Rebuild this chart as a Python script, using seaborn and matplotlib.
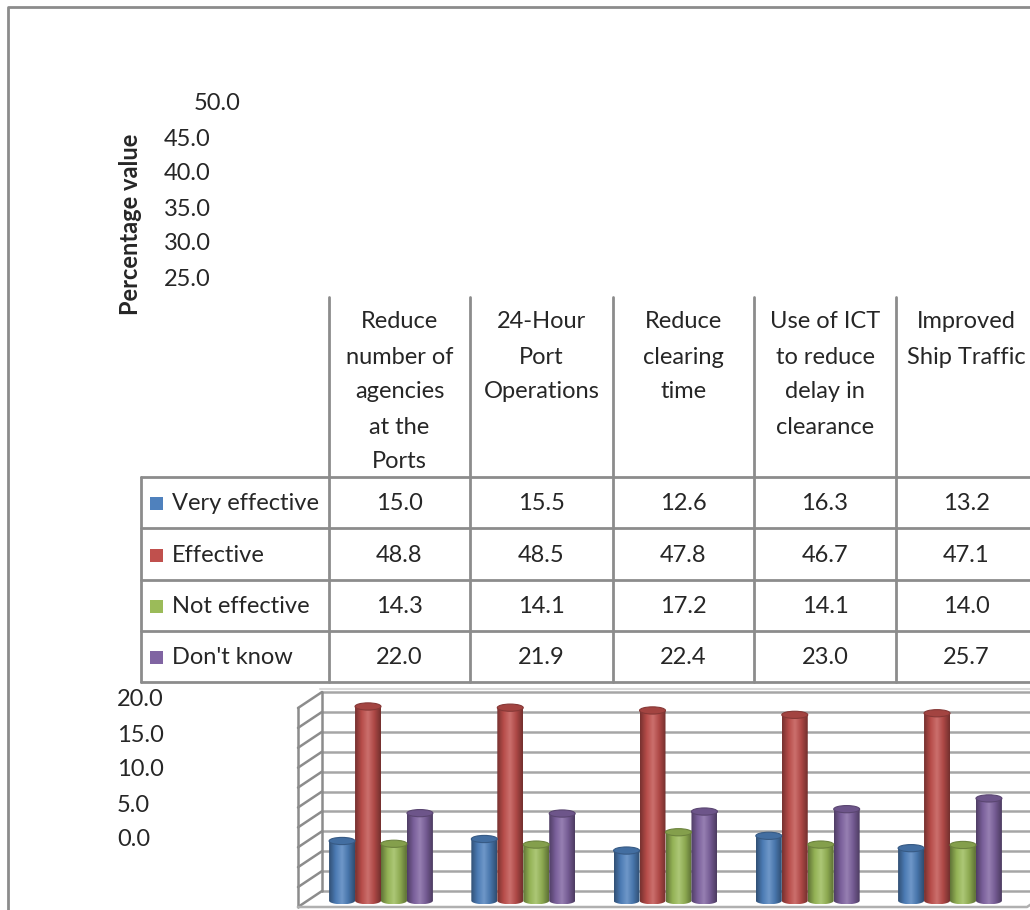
import numpy as np
import pandas as pd
import matplotlib
matplotlib.use('Agg')
import matplotlib.pyplot as plt
import seaborn as sns
from matplotlib.colors import LinearSegmentedColormap, to_rgb
from matplotlib.patches import Ellipse, Polygon, Rectangle

# data
categories = ['Reduce\nnumber of\nagencies\nat the\nPorts', '24-Hour\nPort\nOperations',
              'Reduce\nclearing\ntime', 'Use of ICT\nto reduce\ndelay in\nclearance',
              'Improved\nShip Traffic']
responses = ['Very effective', 'Effective', 'Not effective', "Don't know"]
very_effective = [15.0, 15.5, 12.6, 16.3, 13.2]
effective = [48.8, 48.5, 47.8, 46.7, 47.1]
not_effective = [14.3, 14.1, 17.2, 14.1, 14.0]
dont_know = [22.0, 21.9, 22.4, 23.0, 25.7]
colors = ['#4F81BD', '#C0504D', '#9BBB59', '#8064A2']
# tick labels as they are scattered on the original
ticks_top = ['50.0', '45.0', '40.0', '35.0', '30.0', '25.0']
ticks_bottom = ['20.0', '15.0', '10.0', '5.0', '0.0']

series = [very_effective, effective, not_effective, dont_know]
df = pd.DataFrame({
    'category': [c for s in series for c in range(len(categories))],
    'response': [r for r, s in zip(responses, series) for _ in s],
    'value': [v for s in series for v in s],
})

sns.set_style('white')
plt.rcParams['font.family'] = ['Lato', 'DejaVu Sans']
FS = 17
GRID = '#8c8c8c'

W, H = 1030, 910
fig = plt.figure(figsize=(W / 100, H / 100), dpi=100)

# --- 3D-ish bar chart at the bottom ---
PX0, PXU = 381.0, 142.25      # pixel of category 0, pixels per category
BASE, PYU = 900.7, 3.98       # pixel of value 0, pixels per unit
left_px, right_px, top_px = 296, 1100, 690
bx = fig.add_axes([left_px / W, 0, (right_px - left_px) / W, (H - top_px) / H])

back_x, front_x = (322 - PX0) / PXU, (298 - PX0) / PXU
back_dy, front_dy = (BASE - 891) / PYU, (BASE - 907) / PYU
for g in range(0, 55, 5):
    bx.plot([back_x, 6], [g + back_dy] * 2, color='#a6a6a6', lw=1.8, zorder=1)
    bx.plot([front_x, back_x], [g + front_dy, g + back_dy], color=GRID, lw=1.8, zorder=1)
bx.plot([back_x, back_x], [back_dy, 50 + back_dy], color=GRID, lw=1.8, zorder=1)
bx.plot([front_x, front_x], [front_dy, 50 + front_dy], color=GRID, lw=1.8, zorder=1)
floor_r = (1027 - PX0) / PXU
bx.plot([front_x, floor_r, floor_r + (back_x - front_x)],
        [front_dy, front_dy, back_dy], color='#b0b0b0', lw=1.8, zorder=1)

sns.barplot(data=df, x='category', y='value', hue='response', hue_order=responses,
            palette=colors, width=0.73, gap=0, legend=False, native_scale=True,
            ax=bx, zorder=2, linewidth=0)

eh = 3.6 / PYU
t = np.linspace(np.pi, 2 * np.pi, 40)
for cont, col in zip(bx.containers, colors):
    c = np.array(to_rgb(col))
    cmap = LinearSegmentedColormap.from_list(
        'cyl', [c * 0.62, c * 0.95, c + (1 - c) * 0.18, c * 0.9, c * 0.6])
    for p in cont.patches:
        x0, w, h = p.get_x(), p.get_width(), p.get_height()
        xc = x0 + w / 2
        p.set_visible(False)
        arc = np.column_stack([xc + w / 2 * np.cos(t), eh * np.sin(t)])
        pts = np.vstack([[[x0, h]], arc, [[x0 + w, h]]])
        poly = Polygon(pts, closed=True, facecolor='none', edgecolor='none',
                       transform=bx.transData)
        bx.add_patch(poly)
        im = bx.imshow(np.linspace(0, 1, 64)[None, :], cmap=cmap, aspect='auto',
                       extent=(x0, x0 + w, -eh, h), zorder=3, interpolation='bilinear')
        im.set_clip_path(poly)
        bx.add_patch(Ellipse((xc, h), w, 2 * eh, facecolor=c * 0.85,
                             edgecolor=c * 0.7, lw=0.8, zorder=4))
bx.set_xlim((left_px - PX0) / PXU, (right_px - PX0) / PXU)
bx.set_ylim(-(H - BASE) / PYU, (BASE - top_px) / PYU)
bx.axis('off')

# --- overlay in pixel coordinates: frame, table, labels ---
ov = fig.add_axes([0, 0, 1, 1], facecolor='none')
ov.set_xlim(0, W)
ov.set_ylim(H, 0)
ov.axis('off')

ov.plot([8, 8, W], [H, 7, 7], color=GRID, lw=2)

col_x = [329, 470, 613, 754, 896, 1040]
row_y = [477, 528, 580, 631, 682]
for x in col_x[:-1]:
    ov.plot([x, x], [297, row_y[-1]], color=GRID, lw=2)
ov.plot([141, 141], [row_y[0], row_y[-1]], color=GRID, lw=2)
for y in row_y:
    ov.plot([141, W], [y, y], color=GRID, lw=2)
ov.plot([320, W], [689, 689], color='#d9d9d9', lw=1.5)

for i, lab in enumerate(categories):
    xc = (col_x[i] + col_x[i + 1]) / 2 if i < 4 else 966
    for j, line in enumerate(lab.split('\n')):
        ov.text(xc, 322 + 35 * j, line, ha='center', va='center', fontsize=FS)

for r, (name, vals, col) in enumerate(zip(responses, series, colors)):
    yc = (row_y[r] + row_y[r + 1]) / 2 + 1
    ov.add_patch(Rectangle((150, yc - 6.5), 13, 13, facecolor=col, edgecolor='none'))
    ov.text(172, yc, name, ha='left', va='center', fontsize=FS)
    for i, v in enumerate(vals):
        xc = (col_x[i] + col_x[i + 1]) / 2 if i < 4 else 966
        ov.text(xc, yc, f'{v:.1f}', ha='center', va='center', fontsize=FS)

for k, lab in enumerate(ticks_top):
    ov.text(194 if k == 0 else 164, 104 + 35 * k, lab, ha='left', va='center', fontsize=FS)
for k, lab in enumerate(ticks_bottom):
    ov.text(117, 700 + 35 * k, lab, ha='left', va='center', fontsize=FS)

ov.text(130, 224, 'Percentage value', rotation=90, ha='center', va='center',
        fontsize=FS, fontweight='bold')

fig.savefig('out.png', dpi=100)
